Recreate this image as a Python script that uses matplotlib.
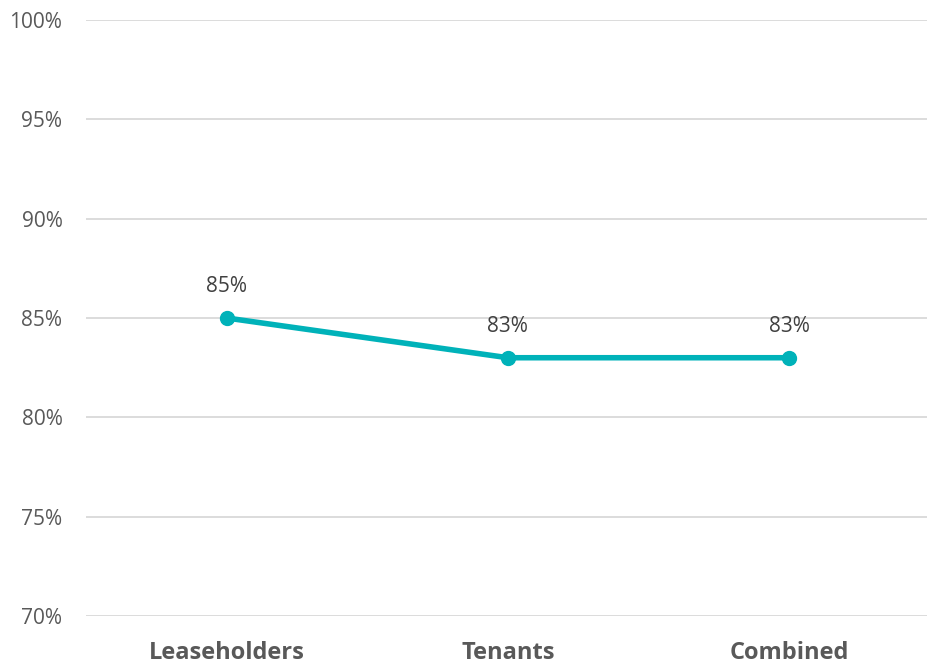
import matplotlib.pyplot as plt
from matplotlib.ticker import FuncFormatter

plt.rcParams['font.family'] = ['Open Sans', 'DejaVu Sans']

groups = ['Leaseholders', 'Tenants', 'Combined']
scores = [85, 83, 83]
y_ticks = [70, 75, 80, 85, 90, 95, 100]

teal = '#00B2B9'
grey_text = '#595959'

fig = plt.figure(figsize=(9.27, 6.67), dpi=100)
ax = fig.add_axes([86 / 927, 1 - 616 / 667, 841 / 927, (616 - 20) / 667])

x = range(len(groups))
ax.plot(x, scores, color=teal, lw=4, marker='o', ms=10, zorder=3,
        solid_capstyle='round')
for xi, v in zip(x, scores):
    ax.annotate(f'{v}%', (xi, v), xytext=(0, 15), textcoords='offset points',
                ha='center', va='bottom', fontsize=15, color='#404040')

ax.set_ylim(70, 100)
ax.set_xlim(-0.5, 2.49)
ax.set_yticks(y_ticks)
ax.yaxis.set_major_formatter(FuncFormatter(lambda v, _: f'{v:.0f}%'))
ax.set_xticks(list(x))
ax.set_xticklabels(groups, fontsize=17, fontweight='bold', color=grey_text)
ax.tick_params(axis='y', labelsize=15, labelcolor=grey_text, length=0, pad=17)
ax.tick_params(axis='x', length=0, pad=18)

ax.grid(axis='y', color='#D9D9D9', lw=1.3)
ax.set_axisbelow(True)
for s in ax.spines.values():
    s.set_visible(False)

fig.savefig('out.png', dpi=100)
